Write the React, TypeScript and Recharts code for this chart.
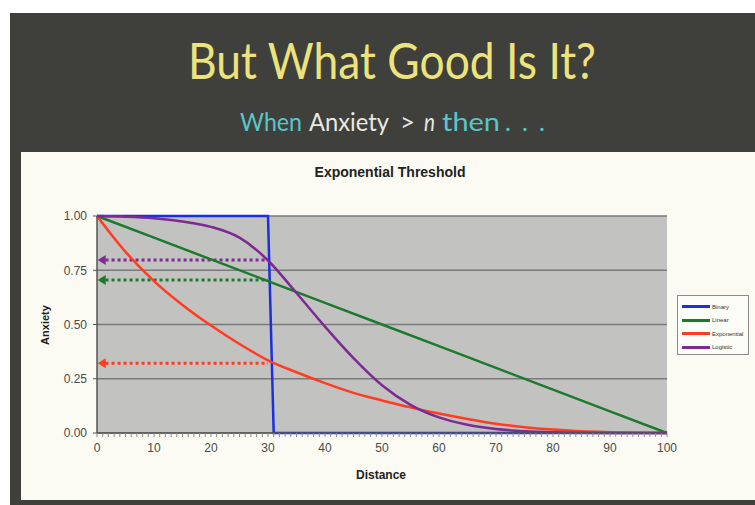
import { LineChart, Line, XAxis, YAxis, CartesianGrid, ReferenceLine, ReferenceDot } from 'recharts'

// distance samples for the smooth curves
const distance = [0, 5, 10, 15, 20, 25, 30, 35, 40, 45, 50, 55, 60, 65, 70, 75, 80, 85, 90, 95, 100]
const exponential = [1, 0.835, 0.7, 0.59, 0.495, 0.41, 0.335, 0.28, 0.23, 0.185, 0.15, 0.118, 0.09, 0.065, 0.043, 0.027, 0.016, 0.008, 0.004, 0.001, 0]
const logistic = [1, 0.997, 0.99, 0.975, 0.95, 0.9, 0.795, 0.645, 0.49, 0.345, 0.22, 0.13, 0.072, 0.038, 0.018, 0.008, 0.003, 0.001, 0, 0, 0]

const linearDistance = [0, 10, 20, 30, 40, 50, 60, 70, 80, 90, 100]
const linear = [1, 0.9, 0.8, 0.7, 0.6, 0.5, 0.4, 0.3, 0.2, 0.1, 0]

const binaryDistance = [0, 30, 31, 100]
const binary = [1, 1, 0, 0]

// dotted arrows: value read at distance 30
const arrowLevels = [
  { name: 'Logistic', value: 0.797, color: '#7d2a93' },
  { name: 'Linear', value: 0.705, color: '#1d7a2c' },
  { name: 'Exponential', value: 0.322, color: '#ff3b22' },
]

const yTicks = [0, 0.25, 0.5, 0.75, 1]
const xTicks = Array.from({ length: 101 }, (_, i) => i)

const SERIES = [
  { name: 'Binary', color: '#1a2fe0' },
  { name: 'Linear', color: '#1d7a2c' },
  { name: 'Exponential', color: '#ff3b22' },
  { name: 'Logistic', color: '#7d2a93' },
]

const toRows = (xs: number[], ys: number[]) => xs.map((x, i) => ({ x, y: ys[i] }))

const binaryData = toRows(binaryDistance, binary)
const linearData = toRows(linearDistance, linear)
const expData = toRows(distance, exponential)
const logisticData = toRows(distance, logistic)

const FONT = '"Liberation Sans", Arial, sans-serif'

function XTick(props: any) {
  const { x, y, payload } = props
  if (payload.value % 10 !== 0) return null
  return (
    <text x={x} y={y + 13} textAnchor="middle" fontSize={12} fontFamily={FONT} fill="#4a4a4a">
      {payload.value}
    </text>
  )
}

function ArrowHead(color: string) {
  return (props: any) => {
    const { cx, cy } = props
    return <polygon points={`${cx - 5},${cy} ${cx + 3},${cy - 5} ${cx + 3},${cy + 5}`} fill={color} />
  }
}

function LegendBox() {
  return (
    <div
      style={{
        position: 'absolute',
        left: 656,
        top: 143,
        width: 72,
        height: 60,
        border: '1px solid #8a8a8a',
        background: '#fdfdf8',
        boxSizing: 'border-box',
        padding: '4px 0 0 4px',
        fontFamily: FONT,
        fontSize: 6,
        color: '#333',
      }}
    >
      {SERIES.map((s) => (
        <div key={s.name} style={{ display: 'flex', alignItems: 'center', height: 13.5 }}>
          <div style={{ width: 28, height: 3, background: s.color, marginRight: 2 }} />
          <span>{s.name}</span>
        </div>
      ))}
    </div>
  )
}

const SUB = { fontFamily: 'Lato, sans-serif', fontSize: 25 }

export default function App() {
  return (
    <div style={{ position: 'absolute', left: 0, top: 0, width: 755, height: 505, background: '#ffffff', overflow: 'hidden' }}>
      <div style={{ position: 'absolute', left: 10, top: 13, width: 745, height: 492, background: '#3f403c' }} />
      <svg width={755} height={150} style={{ position: 'absolute', left: 0, top: 0 }}>
        <text x={188} y={79} fontSize={50} fontFamily="Lato, sans-serif" fill="#ece37c" textLength={408} lengthAdjust="spacingAndGlyphs">
          But What Good Is It?
        </text>
        <text x={240} y={131} {...SUB} fill="#58c7c9" textLength={62} lengthAdjust="spacingAndGlyphs">
          When
        </text>
        <text x={309} y={131} {...SUB} fill="#e9e9e2" textLength={80} lengthAdjust="spacingAndGlyphs">
          Anxiety
        </text>
        <text x={400} y={131} {...SUB} fill="#e9e9e2" textLength={15} lengthAdjust="spacingAndGlyphs">
          &gt;
        </text>
        <text x={424} y={131} {...SUB} fontStyle="italic" fill="#e9e9e2" textLength={11} lengthAdjust="spacingAndGlyphs">
          n
        </text>
        <text x={442} y={131} {...SUB} fill="#58c7c9" textLength={58} lengthAdjust="spacingAndGlyphs">
          then
        </text>
        <text x={505} y={131} {...SUB} fill="#58c7c9" textLength={40} lengthAdjust="spacing">
          ...
        </text>
      </svg>

      <div style={{ position: 'absolute', left: 21, top: 152, width: 734, height: 348, background: '#fbfbf3' }}>
        <div style={{ position: 'absolute', left: 0, width: 738, top: 12, textAlign: 'center', fontFamily: FONT, fontWeight: 'bold', fontSize: 14, color: '#222' }}>
          Exponential Threshold
        </div>
        <div style={{ position: 'absolute', left: 0, width: 720, top: 316, textAlign: 'center', fontFamily: FONT, fontWeight: 'bold', fontSize: 12, color: '#222' }}>
          Distance
        </div>
        <div
          style={{
            position: 'absolute',
            left: 24,
            top: 173,
            transform: 'translate(-50%, -50%) rotate(-90deg)',
            fontFamily: FONT,
            fontWeight: 'bold',
            fontSize: 11,
            color: '#222',
          }}
        >
          Anxiety
        </div>

        <LineChart width={734} height={348} margin={{ top: 64, right: 88, bottom: 37, left: 26 }}>
          <CartesianGrid vertical={false} fill="#c2c2c0" stroke="#7a7a7a" strokeWidth={1.5} horizontalValues={yTicks} />
          <XAxis
            type="number"
            dataKey="x"
            domain={[0, 100]}
            ticks={xTicks}
            interval={0}
            height={30}
            tickSize={4}
            tick={<XTick />}
            axisLine={{ stroke: '#555', strokeWidth: 1.5 }}
            tickLine={{ stroke: '#8a8a8a' }}
          />
          <YAxis
            type="number"
            domain={[0, 1]}
            ticks={yTicks}
            width={50}
            tickSize={4}
            tickMargin={6}
            tickFormatter={(v: number) => v.toFixed(2)}
            tick={{ fontSize: 12, fontFamily: FONT, fill: '#4a4a4a' }}
            axisLine={{ stroke: '#555', strokeWidth: 1.5 }}
            tickLine={{ stroke: '#555' }}
          />
          {arrowLevels.map((a) => (
            <ReferenceLine
              key={a.name}
              segment={[
                { x: 1.5, y: a.value },
                { x: 30, y: a.value },
              ]}
              stroke={a.color}
              strokeWidth={3}
              strokeDasharray="3 3"
            />
          ))}
          {arrowLevels.map((a) => (
            <ReferenceDot key={a.name + '-head'} x={1} y={a.value} shape={ArrowHead(a.color)} />
          ))}
          <Line name="Binary" data={binaryData} dataKey="y" type="linear" stroke={SERIES[0].color} strokeWidth={2.5} dot={false} isAnimationActive={false} />
          <Line name="Linear" data={linearData} dataKey="y" type="linear" stroke={SERIES[1].color} strokeWidth={2.5} dot={false} isAnimationActive={false} />
          <Line name="Exponential" data={expData} dataKey="y" type="monotone" stroke={SERIES[2].color} strokeWidth={2.5} dot={false} isAnimationActive={false} />
          <Line name="Logistic" data={logisticData} dataKey="y" type="monotone" stroke={SERIES[3].color} strokeWidth={2.5} dot={false} isAnimationActive={false} />
        </LineChart>
        <LegendBox />
      </div>
    </div>
  )
}
